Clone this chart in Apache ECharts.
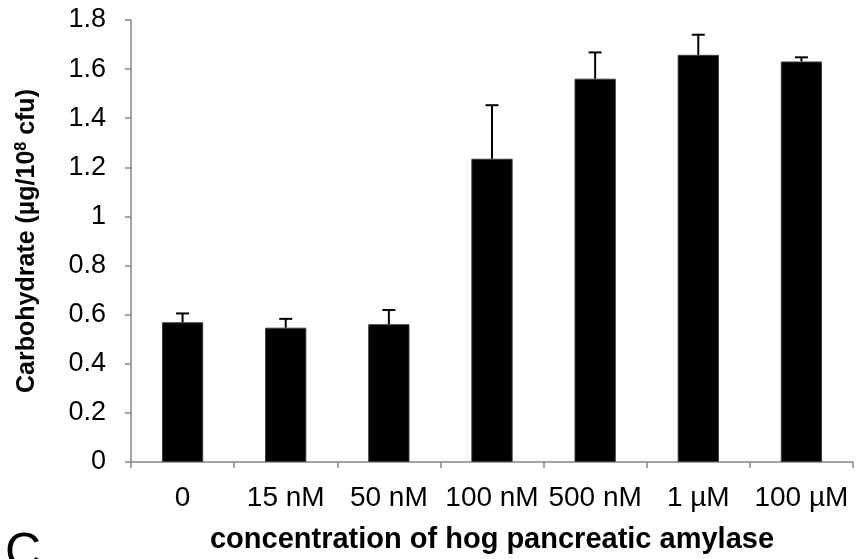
<!DOCTYPE html>
<html>
<head>
<meta charset="utf-8">
<script src="https://cdn.jsdelivr.net/npm/echarts@6/dist/echarts.min.js"></script>
<style>html,body{margin:0;padding:0;background:#fff;}#c{width:856px;height:559px;}</style>
</head>
<body>
<div id="c"></div>
<script>
const categories = ['0', '15 nM', '50 nM', '100 nM', '500 nM', '1 µM', '100 µM'];
const means = [0.569, 0.547, 0.561, 1.235, 1.561, 1.658, 1.631];
const errors = [0.036, 0.036, 0.058, 0.218, 0.107, 0.082, 0.017];
const yTicks = [0, 0.2, 0.4, 0.6, 0.8, 1, 1.2, 1.4, 1.6, 1.8];

const chart = echarts.init(document.getElementById('c'), null, {renderer: 'canvas'});
const font = 'Liberation Sans, Arial, sans-serif';
chart.setOption({
  animation: false,
  backgroundColor: '#ffffff',
  grid: {left: 131, right: 3, top: 20, bottom: 97},
  xAxis: {
    type: 'category',
    data: categories,
    axisLine: {lineStyle: {color: '#868686', width: 1.5}},
    axisTick: {show: true, length: 6, lineStyle: {color: '#868686', width: 1.5}, alignWithLabel: false},
    axisLabel: {color: '#000', fontSize: 28, fontFamily: font, margin: 22, interval: 0},
    name: 'concentration of hog pancreatic amylase',
    nameLocation: 'middle',
    nameGap: 63,
    nameTextStyle: {color: '#000', fontSize: 29, fontWeight: 'bold', fontFamily: font}
  },
  yAxis: {
    type: 'value',
    min: 0, max: 1.8, interval: 0.2,
    splitLine: {show: false},
    axisLine: {show: true, lineStyle: {color: '#868686', width: 1.5}},
    axisTick: {show: true, length: 6, lineStyle: {color: '#868686', width: 1.5}},
    axisLabel: {color: '#000', fontSize: 27, fontFamily: font, margin: 25,
      formatter: v => { const t = yTicks.find(x => Math.abs(x - v) < 1e-6); return String(t !== undefined ? t : v); }},
    name: 'Carbohydrate (µg/10{sup|8} cfu)',
    nameLocation: 'middle',
    nameGap: 90,
    nameRotate: 90,
    nameTextStyle: {color: '#000', fontSize: 25, fontWeight: 'bold', fontFamily: font,
      rich: {sup: {fontSize: 16, fontWeight: 'bold', fontFamily: font, color: '#000', padding: [0, 0, 11, 0]}}}
  },
  series: [
    {
      type: 'bar',
      data: means,
      barWidth: '40%',
      itemStyle: {color: '#000000', borderColor: '#3a3a3a', borderWidth: 1}
    },
    {
      type: 'custom',
      data: means.map((m, i) => [i, m, m + errors[i]]),
      z: 5,
      renderItem: function (params, api) {
        const x = api.value(0);
        const lo = api.coord([x, api.value(1)]);
        const hi = api.coord([x, api.value(2)]);
        const half = 6.5;
        return {
          type: 'group',
          children: [
            {type: 'line', shape: {x1: lo[0], y1: lo[1], x2: hi[0], y2: hi[1]}, style: {stroke: '#000', lineWidth: 2}},
            {type: 'line', shape: {x1: hi[0] - half, y1: hi[1], x2: hi[0] + half, y2: hi[1]}, style: {stroke: '#000', lineWidth: 2}}
          ]
        };
      }
    }
  ],
  graphic: [
    {type: 'text', left: 5, top: 529, style: {text: 'C', fontSize: 50, fontFamily: font, fill: '#000'}}
  ]
});
</script>
</body>
</html>
